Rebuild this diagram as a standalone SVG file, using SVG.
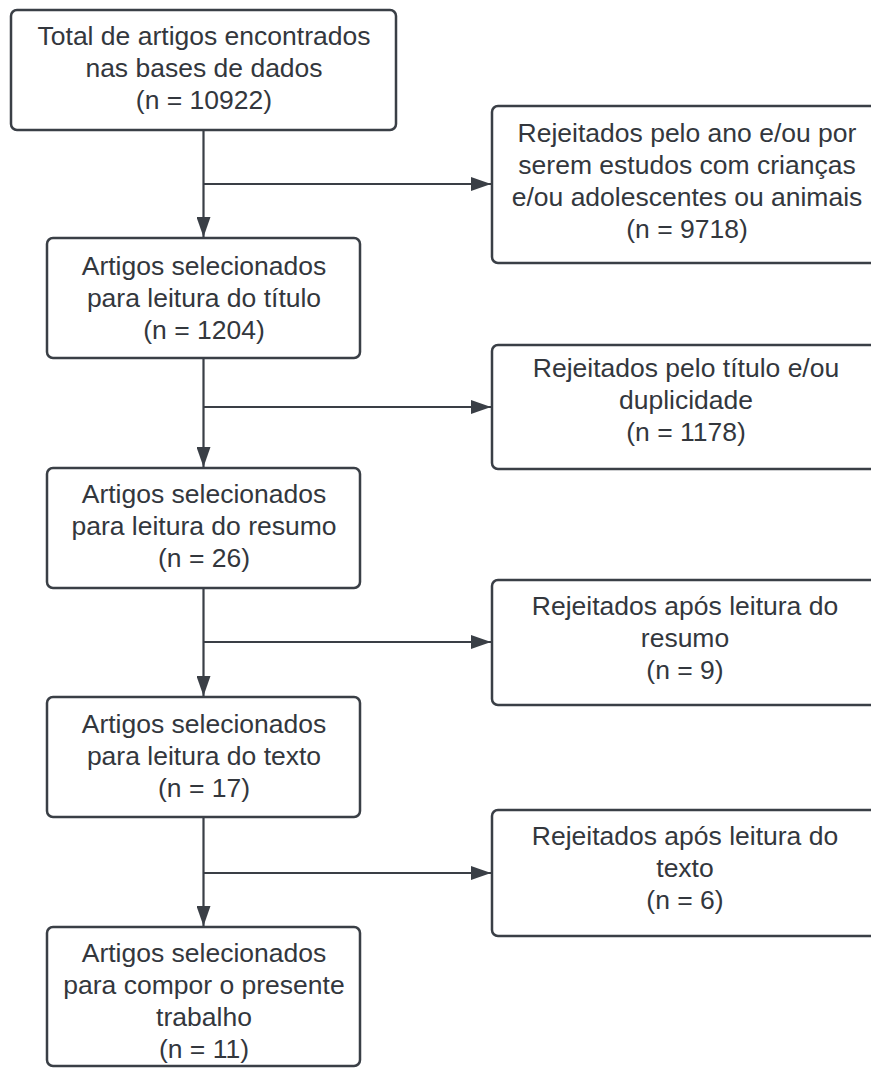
<svg xmlns="http://www.w3.org/2000/svg" width="871" height="1068" viewBox="0 0 871 1068">
<style>
.box{fill:#ffffff;stroke:#3a3f46;stroke-width:2.5}
.t{font-family:"Liberation Sans",Arial,sans-serif;font-size:26.5px;fill:#33373d;text-anchor:middle}
.c{stroke:#3a3f46;stroke-width:2.2;fill:none}
</style>
<defs>
<marker id="ah" viewBox="0 0 20 14" refX="20" refY="7" markerWidth="20" markerHeight="14" markerUnits="userSpaceOnUse" orient="auto">
<path d="M0,0 L20,7 L0,14 Z" fill="#3a3f46"/>
</marker>
</defs>
<rect width="871" height="1068" fill="#ffffff"/>
<g id="connectors">
<line class="c" x1="203.5" y1="130" x2="203.5" y2="237" marker-end="url(#ah)"/>
<line class="c" x1="203.5" y1="184" x2="491" y2="184" marker-end="url(#ah)"/>
<line class="c" x1="203.5" y1="359" x2="203.5" y2="467" marker-end="url(#ah)"/>
<line class="c" x1="203.5" y1="407" x2="491" y2="407" marker-end="url(#ah)"/>
<line class="c" x1="203.5" y1="588" x2="203.5" y2="696" marker-end="url(#ah)"/>
<line class="c" x1="203.5" y1="642" x2="491" y2="642" marker-end="url(#ah)"/>
<line class="c" x1="203.5" y1="817" x2="203.5" y2="926" marker-end="url(#ah)"/>
<line class="c" x1="203.5" y1="873" x2="491" y2="873" marker-end="url(#ah)"/>
</g>
<g id="n1">
<rect class="box" x="11" y="10" width="385" height="120" rx="6"/>
<text class="t" x="204" y="45">Total de artigos encontrados</text>
<text class="t" x="204" y="77">nas bases de dados</text>
<text class="t" x="204" y="109">(n = 10922)</text>
</g>
<g id="r1">
<rect class="box" x="492" y="106" width="390" height="157" rx="6"/>
<text class="t" x="687" y="142">Rejeitados pelo ano e/ou por</text>
<text class="t" x="687" y="174">serem estudos com crianças</text>
<text class="t" x="687" y="206">e/ou adolescentes ou animais</text>
<text class="t" x="687" y="238">(n = 9718)</text>
</g>
<g id="n2">
<rect class="box" x="47" y="238" width="313" height="120" rx="6"/>
<text class="t" x="204" y="275">Artigos selecionados</text>
<text class="t" x="204" y="307">para leitura do título</text>
<text class="t" x="204" y="339">(n = 1204)</text>
</g>
<g id="r2">
<rect class="box" x="492" y="345" width="390" height="124" rx="6"/>
<text class="t" x="686" y="377">Rejeitados pelo título e/ou</text>
<text class="t" x="686" y="409">duplicidade</text>
<text class="t" x="686" y="441">(n = 1178)</text>
</g>
<g id="n3">
<rect class="box" x="47" y="468" width="313" height="120" rx="6"/>
<text class="t" x="204" y="503">Artigos selecionados</text>
<text class="t" x="204" y="535">para leitura do resumo</text>
<text class="t" x="204" y="567">(n = 26)</text>
</g>
<g id="r3">
<rect class="box" x="492" y="580" width="390" height="125" rx="6"/>
<text class="t" x="685" y="615">Rejeitados após leitura do</text>
<text class="t" x="685" y="647">resumo</text>
<text class="t" x="685" y="679">(n = 9)</text>
</g>
<g id="n4">
<rect class="box" x="47" y="697" width="313" height="120" rx="6"/>
<text class="t" x="204" y="733">Artigos selecionados</text>
<text class="t" x="204" y="765">para leitura do texto</text>
<text class="t" x="204" y="797">(n = 17)</text>
</g>
<g id="r4">
<rect class="box" x="492" y="810" width="390" height="126" rx="6"/>
<text class="t" x="685" y="845">Rejeitados após leitura do</text>
<text class="t" x="685" y="877">texto</text>
<text class="t" x="685" y="909">(n = 6)</text>
</g>
<g id="n5">
<rect class="box" x="47" y="927" width="313" height="139" rx="6"/>
<text class="t" x="204" y="962">Artigos selecionados</text>
<text class="t" x="204" y="994">para compor o presente</text>
<text class="t" x="204" y="1026">trabalho</text>
<text class="t" x="204" y="1058">(n = 11)</text>
</g>
</svg>
